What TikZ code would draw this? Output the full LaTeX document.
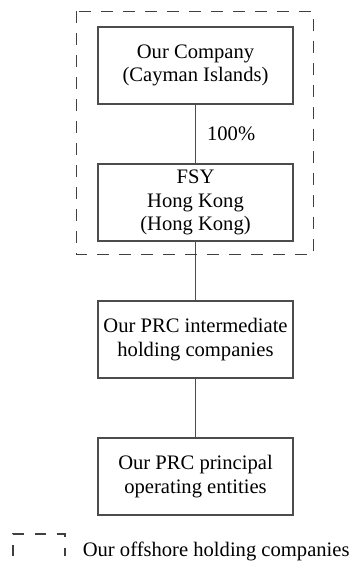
\documentclass[tikz,border=0pt]{standalone}
\usepackage{fontspec}
\setmainfont{Liberation Serif}
\usepackage{tikz}
\usetikzlibrary{positioning,calc}
\tikzset{offshore/.style = {draw=black!75, line width=0.6pt, dash pattern=on 6pt off 5pt}}

\begin{document}
\begin{tikzpicture}[x=0.5pt,y=-0.5pt,node distance=68.5pt,thick,
    entity/.style={rectangle,draw=black!70,line width=0.6pt,minimum width=97.5pt,minimum height=38.5pt,inner sep=0pt,align=center,font=\fontsize{10.3}{11.75}\selectfont}]
                \useasboundingbox (0,0) rectangle (358,563);
                \node[entity] (cayman) at (195.5,65.5) {Our Company\\(Cayman Islands)};
                \node[entity] (fsy) [below of=cayman] {FSY\\Hong Kong\\(Hong Kong)};
                \node[entity] (midhold) [below of=fsy] {Our PRC intermediate\\holding companies};
                \node[entity] (principal) [below of=midhold] {Our PRC principal\\operating entities};

                \path[draw=black!70,line width=0.6pt,every node/.style={font=\fontsize{10.3}{11.75}\selectfont,inner sep=0pt}]
                    (cayman) edge node [right=5.5pt] {100\%} (fsy)
                    (fsy) edge node [] {} (midhold)
                    (midhold) edge node [] {} (principal)
                    ;

                % offshore group
                \draw[offshore] ($(cayman.north west)+(-21,-15)$) rectangle ($(fsy.south east)+(20,13)$);

                % legend
                \coordinate (keyA) at (13,556);
                \coordinate (keyB) at (65,556);
                \draw[offshore,dash pattern=on 5.5pt off 5.5pt] (keyA) |- ($(keyB)+(0,-22)$) -- (keyB);
                \node[anchor=west,inner sep=0pt,font=\fontsize{10.3}{11.75}\selectfont] (keytext) at (82,551) {Our offshore holding companies};
            \end{tikzpicture}
\end{document}
